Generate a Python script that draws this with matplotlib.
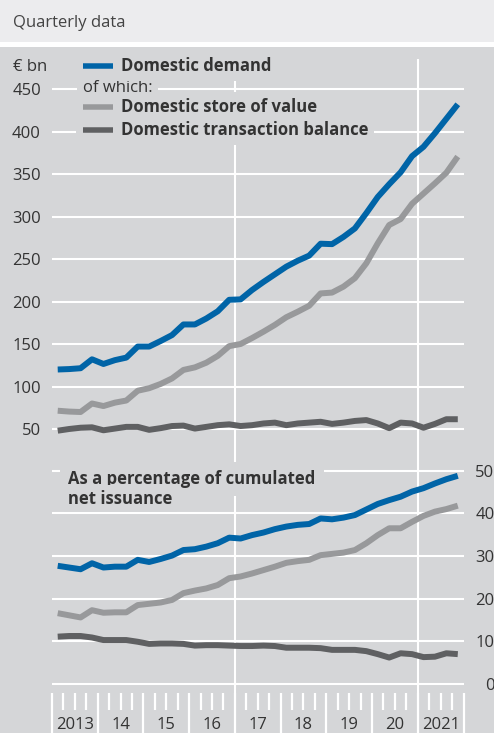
# Domestic demand for euro banknotes - quarterly, € bn and % of cumulated net issuance
import matplotlib
matplotlib.use("Agg")
import matplotlib.pyplot as plt
from matplotlib.lines import Line2D
from matplotlib.patches import Rectangle
import pandas as pd

# ── data ──────────────────────────────────────────────────────────────────────
QUARTERS = pd.period_range("2013Q1", "2021Q4", freq="Q")

DEMAND_BN = [120, 120.5, 121.5, 132, 126.5, 131, 134, 147, 147, 153.5, 160.5, 173,
             173, 180, 188.5, 202, 202.5, 213.5, 223, 232, 241, 248, 254, 268,
             267.5, 276, 286, 304, 323, 338, 352, 371, 382, 398, 415, 432]
STORE_BN = [71.5, 70.5, 70, 80, 77, 81, 83.5, 95, 98, 103, 109.5, 119.5,
            122.5, 128, 136, 147.5, 150, 157, 164.5, 172.5, 181.5, 188, 195, 209.5,
            210.5, 217.5, 227.5, 245, 268.5, 290, 297, 315, 327, 339, 351.5, 370.5]
TRANS_BN = [48, 50, 51.5, 52, 48.5, 50.5, 52.5, 52.5, 49, 51, 53.5, 54,
            50.5, 52.5, 54.5, 55.5, 53.5, 54.5, 56.5, 57.5, 54.5, 56.5, 57.5, 58.5,
            56, 57.5, 59.5, 60.5, 56.5, 51, 57.5, 56.5, 51.5, 56, 61.5, 61.5]

DEMAND_PCT = [27.7, 27.3, 26.9, 28.3, 27.3, 27.5, 27.5, 29.1, 28.6, 29.3, 30.1, 31.4,
              31.6, 32.2, 33.0, 34.3, 34.1, 34.9, 35.5, 36.3, 36.9, 37.3, 37.5, 38.8,
              38.6, 39.0, 39.6, 40.9, 42.2, 43.1, 43.9, 45.1, 45.9, 47.0, 48.0, 48.8]
STORE_PCT = [16.6, 16.1, 15.6, 17.3, 16.7, 16.8, 16.8, 18.5, 18.8, 19.1, 19.7, 21.3,
             21.9, 22.4, 23.2, 24.8, 25.2, 25.9, 26.7, 27.5, 28.4, 28.8, 29.1, 30.2,
             30.5, 30.8, 31.4, 33.0, 34.9, 36.5, 36.5, 38.0, 39.4, 40.4, 41.0, 41.8]
TRANS_PCT = [11.1, 11.25, 11.25, 10.9, 10.3, 10.3, 10.3, 9.9, 9.4, 9.5, 9.5, 9.4,
             9.0, 9.1, 9.1, 9.0, 8.9, 8.9, 9.0, 8.9, 8.5, 8.5, 8.5, 8.4,
             8.0, 8.0, 8.0, 7.7, 7.0, 6.2, 7.2, 7.0, 6.3, 6.4, 7.2, 7.0]

YEARS       = list(range(2013, 2022))
YEAR_LABELS = ["2013", "14", "15", "16", "17", "18", "19", "20", "2021"]
BN_TICKS    = [50, 100, 150, 200, 250, 300, 350, 400, 450]
PCT_TICKS   = [0, 10, 20, 30, 40, 50]
MARK_YEARS  = [2017, 2021]

SERIES = [
    ("Domestic demand",              "#0064A7", DEMAND_BN, DEMAND_PCT),
    ("Domestic store of value",      "#98999B", STORE_BN,  STORE_PCT),
    ("Domestic transaction balance", "#5F6062", TRANS_BN,  TRANS_PCT),
]

# ── styling ───────────────────────────────────────────────────────────────────
BAND  = "#ECECEE"
PANEL = "#D5D6D8"
TXT   = "#333333"
FONT  = "Open Sans"
FS    = 12
LW    = 4.3
plt.rcParams["font.family"] = [FONT, "DejaVu Sans"]

W, H = 494, 733
def fx(px): return px / W
def fy(py): return 1 - py / H
def pt(px): return px * 72 / 100

x = [q.year + (q.quarter - 0.5) / 4 for q in QUARTERS]

fig = plt.figure(figsize=(W / 100, H / 100), dpi=100)
fig.patch.set_facecolor("white")
fig.patches.append(Rectangle((0, fy(42)), 1, 42 / H, transform=fig.transFigure,
                             fc=BAND, ec="none", zorder=-1))
fig.patches.append(Rectangle((0, 0), 1, fy(47), transform=fig.transFigure,
                             fc=PANEL, ec="none", zorder=-1))
fig.text(fx(13), fy(23), "Quarterly data", fontsize=FS, color="#444444", va="center")

X0, X1 = 52, 463.5
ax1 = fig.add_axes([fx(X0), fy(463), fx(X1) - fx(X0), fy(59) - fy(463)])
ax2 = fig.add_axes([fx(X0), fy(693), fx(X1) - fx(X0), fy(463) - fy(693)])

for ax in (ax1, ax2):
    ax.set_facecolor("none")
    for s in ax.spines.values():
        s.set_visible(False)
    ax.set_xlim(2013, 2022)
    ax.grid(axis="y", color="white", linewidth=1.5)
    ax.set_axisbelow(True)
    for yr in MARK_YEARS:
        ax.axvline(yr, color="white", linewidth=1.5, zorder=1)

# top panel: € bn
for name, col, bn, pct in SERIES[::-1]:
    ax1.plot(x, bn, color=col, linewidth=LW, solid_joinstyle="round",
             solid_capstyle="butt", zorder=3)
ax1.set_ylim(10, 485.3)
ax1.set_yticks(BN_TICKS)
ax1.set_xticks([])
ax1.tick_params(axis="y", length=0, pad=pt(11), labelsize=FS, labelcolor=TXT)

# bottom panel: percent
for name, col, bn, pct in SERIES[::-1]:
    ax2.plot(x, pct, color=col, linewidth=LW, solid_joinstyle="round",
             solid_capstyle="butt", zorder=3)
ax2.set_ylim(-2.11, 51.8)
ax2.set_yticks(PCT_TICKS)
ax2.yaxis.tick_right()
ax2.tick_params(axis="y", length=0, pad=pt(31), labelsize=FS, labelcolor=TXT)
for lbl in ax2.get_yticklabels():
    lbl.set_horizontalalignment("right")

ax2.set_xticks(YEARS + [2022])
ax2.set_xticks([q.year + (q.quarter - 1) / 4 for q in QUARTERS], minor=True)
ax2.tick_params(axis="x", which="major", length=pt(40), width=1.6, color="white",
                labelbottom=False)
ax2.tick_params(axis="x", which="minor", length=pt(17), width=1.6, color="white")
for yr, lab in zip(YEARS, YEAR_LABELS):
    ax2.text(yr + 0.5, -0.139, lab, transform=ax2.get_xaxis_transform(),
             ha="center", va="center", fontsize=FS, color=TXT)

# legend rows (top panel)
fig.text(fx(13), fy(67), "€ bn", fontsize=FS, color=TXT, va="center")
box = dict(boxstyle="square,pad=0.35", fc=PANEL, ec="none")
rows = [(66, SERIES[0]), (106.5, SERIES[1]), (130, SERIES[2])]
for py, (name, col, bn, pct) in rows:
    fig.lines.append(Line2D([fx(76), fx(122)], [fy(py), fy(py)], transform=fig.transFigure,
                            color=PANEL, linewidth=pt(14), solid_capstyle="butt", zorder=2))
    fig.lines.append(Line2D([fx(83), fx(113)], [fy(py), fy(py)], transform=fig.transFigure,
                            color=col, linewidth=pt(5.5), solid_capstyle="butt", zorder=2.5))
    fig.text(fx(121), fy(py), name, fontsize=FS, fontweight="bold", color=TXT,
             va="center", bbox=box, zorder=3)
fig.text(fx(83), fy(87.5), "of which:", fontsize=FS, color=TXT, va="center",
         bbox=box, zorder=2.8)

# annotation (bottom panel)
fig.text(fx(68), fy(479), "As a percentage of cumulated", fontsize=FS, fontweight="bold",
         color=TXT, va="center", bbox=dict(boxstyle="square,pad=0.5", fc=PANEL, ec="none"))
fig.text(fx(68), fy(498.5), "net issuance", fontsize=FS, fontweight="bold",
         color=TXT, va="center", bbox=dict(boxstyle="square,pad=0.25", fc=PANEL, ec="none"))

fig.savefig("out.png", dpi=100)
